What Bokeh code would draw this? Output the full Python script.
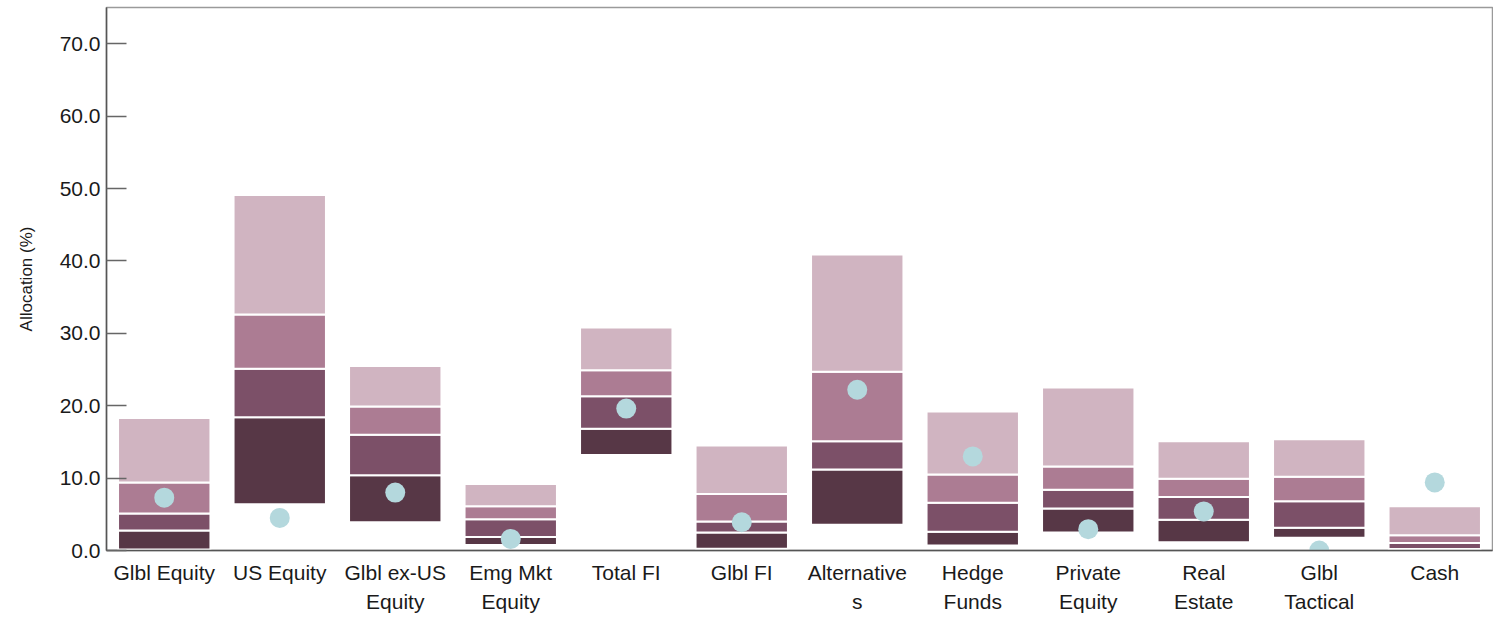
from bokeh.plotting import figure
from bokeh.models import Range1d, FixedTicker, PrintfTickFormatter
from bokeh.embed import file_html
from bokeh.resources import INLINE

# Categories (display labels, as wrapped in the original)
categories = ["Glbl Equity", "US Equity", "Glbl ex-US\nEquity", "Emg Mkt\nEquity",
              "Total FI", "Glbl FI", "Alternative\ns", "Hedge\nFunds",
              "Private\nEquity", "Real\nEstate", "Glbl\nTactical", "Cash"]

# Percentile bands (allocation %)
p5  = [0.15, 6.4, 3.9, 0.75, 13.2, 0.25, 3.55, 0.7, 2.5, 1.15, 1.75, 0.2]
p25 = [2.75, 18.4, 10.4, 1.85, 16.8, 2.5, 11.2, 2.6, 5.8, 4.25, 3.15, 0.2]
p50 = [5.1, 25.1, 16.0, 4.3, 21.3, 4.0, 15.1, 6.6, 8.4, 7.4, 6.8, 1.05]
p75 = [9.4, 32.6, 19.9, 6.1, 24.9, 7.8, 24.7, 10.5, 11.6, 9.9, 10.2, 2.1]
p95 = [18.3, 49.1, 25.5, 9.2, 30.8, 14.5, 40.9, 19.2, 22.5, 15.1, 15.35, 6.1]

# Current allocation markers
current = [7.3, 4.5, 8.0, 1.6, 19.6, 3.9, 22.2, 13.0, 2.95, 5.4, 0.0, 9.4]

y_ticks = [0, 10, 20, 30, 40, 50, 60, 70]

colors = ["#573746", "#7c5068", "#ac7c93", "#d0b4c1"]
dot_color = "#b4d8dd"
FONT = "Liberation Sans"

p = figure(x_range=categories, y_range=Range1d(0, 75), width=1493, height=616,
           output_backend="svg", toolbar_location=None,
           min_border_left=106, min_border_top=7, min_border_right=1, min_border_bottom=66)

bands = [(p5, p25), (p25, p50), (p50, p75), (p75, p95)]
for (lo, hi), c in zip(bands, colors):
    p.vbar(x=categories, bottom=lo, top=hi, width=0.8, fill_color=c,
           line_color="white", line_width=2)

p.scatter(x=categories, y=current, size=20, fill_color=dot_color, line_color=None)

p.xgrid.visible = False
p.ygrid.visible = False
p.outline_line_color = "#9a9a9a"
p.outline_line_width = 1.5

ya = p.yaxis[0]
ya.ticker = FixedTicker(ticks=y_ticks)
ya.formatter = PrintfTickFormatter(format="%.1f")
ya.major_tick_in = 20
ya.major_tick_out = 0
ya.minor_tick_in = 0
ya.minor_tick_out = 0
ya.major_tick_line_color = "#666666"
ya.major_tick_line_width = 1.5
ya.axis_line_color = "#555555"
ya.axis_line_width = 1.5
ya.major_label_text_font = FONT
ya.major_label_text_font_size = "21px"
ya.major_label_text_color = "#1a1a1a"
ya.major_label_standoff = 6
ya.axis_label = "Allocation (%)"
ya.axis_label_text_font = FONT
ya.axis_label_text_font_size = "17px"
ya.axis_label_text_font_style = "normal"
ya.axis_label_text_color = "#1a1a1a"
ya.axis_label_standoff = 21

xa = p.xaxis[0]
xa.major_tick_in = 0
xa.major_tick_out = 0
xa.minor_tick_in = 0
xa.minor_tick_out = 0
xa.axis_line_color = "#555555"
xa.axis_line_width = 1.5
xa.major_label_text_font = FONT
xa.major_label_text_font_size = "21px"
xa.major_label_text_line_height = 1.3
xa.major_label_text_color = "#1a1a1a"
xa.major_label_standoff = 10

open("out.html", "w").write(file_html(p, INLINE))
